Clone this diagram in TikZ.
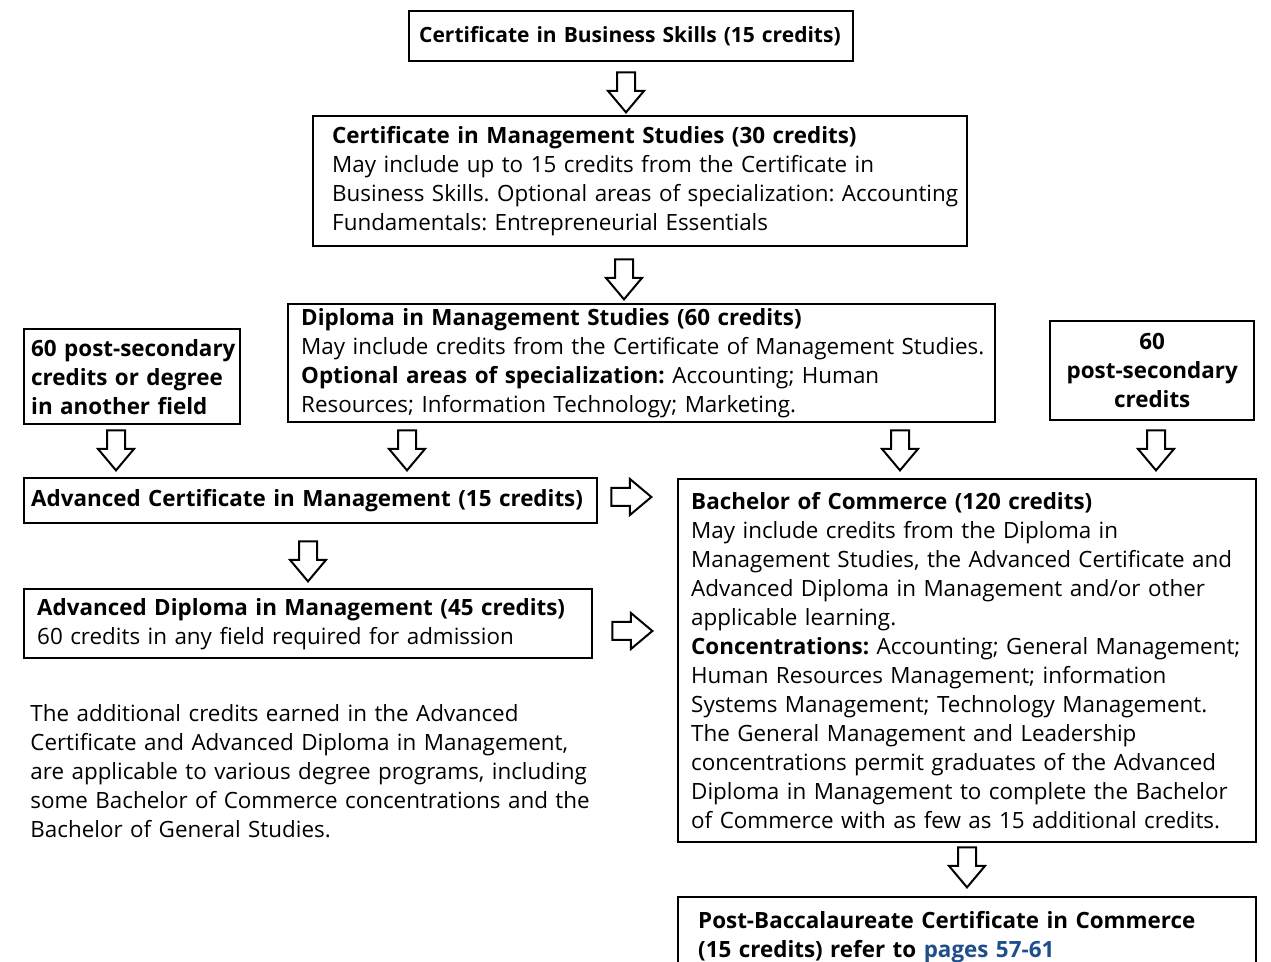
\documentclass[tikz,border=0pt]{standalone}
\usepackage{fontspec}
\setmainfont{Open Sans}
\usetikzlibrary{shapes.arrows}

\definecolor{linkblue}{RGB}{31,78,140}
\frenchspacing

\tikzset{
  box/.style={draw,line width=1.2pt,anchor=north west,align=left,inner ysep=0pt,
    font=\fontsize{11.2}{14.5}\selectfont},
  lpad/.style={execute at begin node={\leftskip=#1}},
  note/.style={anchor=north west,align=left,inner sep=0pt,
    font=\fontsize{11.2}{14.5}\selectfont},
  downarrow/.style={single arrow,draw,line width=1pt,shape border rotate=270,
    minimum height=20pt,minimum width=17pt,single arrow head extend=4.5pt,
    single arrow tip angle=80,inner sep=4pt},
  rightarrow/.style={downarrow,shape border rotate=0},
}

\begin{document}
\begin{tikzpicture}[x=0.5pt,y=-0.5pt]
\clip (0,0) rectangle (1271,962);

\node[box,text width=212pt,inner xsep=5pt,minimum height=25pt,
  font=\fontsize{10.5}{14.5}\selectfont] (cbs) at (408,10)
  {\textbf{Certificate in Business Skills (15 credits)}};
\node[box,text width=321pt,inner xsep=3pt,lpad=6.5pt,minimum height=65pt] (cms) at (312,115)
  {\textbf{Certificate in Management Studies (30 credits)}\\
   May include up to 15 credits from the Certificate in\\
   Business Skills. Optional areas of specialization: Accounting\\
   Fundamentals: Entrepreneurial Essentials};
\node[box,text width=347.5pt,inner xsep=3pt,lpad=3.5pt,minimum height=59pt] (dms) at (287,303)
  {\textbf{Diploma in Management Studies (60 credits)}\\
   May include credits from the Certificate of Management Studies.\\
   \textbf{Optional areas of specialization:} Accounting; Human\\
   Resources; Information Technology; Marketing.};
\node[box,text width=105pt,inner xsep=1.5pt,lpad=2pt,minimum height=47.5pt] (deg) at (23,328)
  {\textbf{60 post-secondary}\\
   \textbf{credits or degree}\\
   \textbf{in another field}};
\node[box,text width=95pt,inner xsep=3.5pt,minimum height=49.5pt,align=center] (psc) at (1049,320)
  {\textbf{60}\\
   \textbf{post-secondary}\\
   \textbf{credits}};
\node[box,text width=279.5pt,inner xsep=3.5pt,minimum height=22.5pt] (acm) at (23,477)
  {\textbf{Advanced Certificate in Management (15 credits)}};
\node[box,text width=271pt,inner xsep=6.5pt,minimum height=34.5pt] (adm) at (23,588)
  {\textbf{Advanced Diploma in Management (45 credits)}\\
   60 credits in any field required for admission};
\node[box,text width=283pt,inner xsep=3pt,lpad=3.5pt,minimum height=181.5pt] (bcom) at (677,478)
  {\textbf{Bachelor of Commerce (120 credits)}\\
   May include credits from the Diploma in\\
   Management Studies, the Advanced Certificate and\\
   Advanced Diploma in Management and/or other\\
   applicable learning.\\
   \textbf{Concentrations:} Accounting; General Management;\\
   Human Resources Management; information\\
   Systems Management; Technology Management.\\
   The General Management and Leadership\\
   concentrations permit graduates of the Advanced\\
   Diploma in Management to complete the Bachelor\\
   of Commerce with as few as 15 additional credits.};
\node[box,text width=269pt,inner xsep=10pt,minimum height=40pt] (pbc) at (677,896)
  {\textbf{Post-Baccalaureate Certificate in Commerce}\\
   \textbf{(15 credits) refer to \textcolor{linkblue}{pages 57-61}}};
\node[note,text width=300pt] (txt) at (30,704)
  {The additional credits earned in the Advanced\\
   Certificate and Advanced Diploma in Management,\\
   are applicable to various degree programs, including\\
   some Bachelor of Commerce concentrations and the\\
   Bachelor of General Studies.};

% hollow arrows
\node[downarrow] (a1) at (626,87) {};
\node[downarrow] (a2) at (624,274) {};
\node[downarrow] (a3) at (116,445) {};
\node[downarrow] (a4) at (407,445) {};
\node[downarrow] (a5) at (900,445) {};
\node[downarrow] (a6) at (1156,445) {};
\node[rightarrow] (a7) at (626,497) {};
\node[downarrow] (a8) at (308,556) {};
\node[rightarrow] (a9) at (627,631) {};
\node[downarrow] (a10) at (967,862) {};
\end{tikzpicture}
\end{document}
